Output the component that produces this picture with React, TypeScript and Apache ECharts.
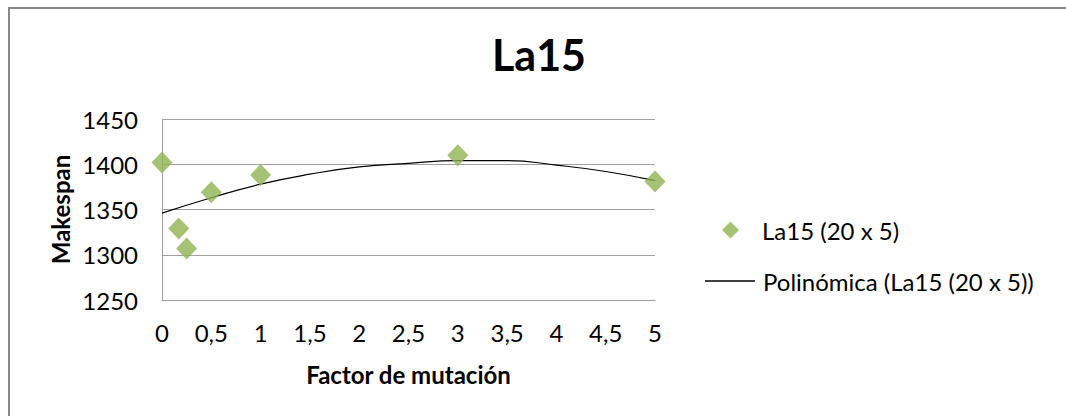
import React, { useEffect, useRef } from "react";
import * as echarts from "echarts";

const title = "La15";
const seriesName = "La15 (20 x 5)";
const trendName = "Polinómica (La15 (20 x 5))";
const xValues = [0, 0.17, 0.25, 0.5, 1, 3, 5];
const yValues = [1402, 1329, 1307, 1369, 1388, 1410, 1381];
const trendX = [0, 0.5, 1, 1.5, 2, 2.5, 3, 3.5, 4, 4.5, 5];
const trendY = [1346, 1363, 1378, 1389, 1397, 1401, 1404, 1404, 1399, 1392, 1382];
const xAxisTitle = "Factor de mutación";
const yAxisTitle = "Makespan";

const FONT = "Lato, 'Open Sans', sans-serif";

export default function App() {
  const ref = useRef<HTMLDivElement>(null);
  useEffect(() => {
    if (!ref.current) return;
    const chart = echarts.init(ref.current, undefined, { renderer: "svg" });
    chart.setOption({
      animation: false,
      backgroundColor: "#ffffff",
      textStyle: { fontFamily: FONT },
      title: {
        text: title,
        left: 539,
        top: 33,
        padding: 0,
        textAlign: "center",
        textStyle: { fontSize: 43, fontWeight: "bold", color: "#000", fontFamily: FONT },
      },
      graphic: [
        {
          type: "rect",
          shape: { x: 9, y: 8, width: 1200, height: 600 },
          style: { fill: "none", stroke: "#878787", lineWidth: 2 },
          silent: true,
        },
      ],
      grid: { left: 162, right: 411, top: 119, bottom: 116 },
      xAxis: {
        type: "value",
        min: 0,
        max: 5,
        interval: 0.5,
        name: xAxisTitle,
        nameLocation: "middle",
        nameGap: 62,
        nameTextStyle: { fontSize: 24, fontWeight: "bold", color: "#000", fontFamily: FONT },
        axisLine: { show: true, lineStyle: { color: "#a0a0a0" } },
        axisTick: { show: false },
        splitLine: { show: false },
        axisLabel: {
          fontSize: 24,
          color: "#000",
          margin: 20,
          fontFamily: FONT,
          formatter: (v: number) => String(v).replace(".", ","),
        },
      },
      yAxis: {
        type: "value",
        min: 1250,
        max: 1450,
        interval: 50,
        name: yAxisTitle,
        nameLocation: "middle",
        nameGap: 90,
        nameRotate: 90,
        nameTextStyle: { fontSize: 24, fontWeight: "bold", color: "#000", fontFamily: FONT },
        axisLine: { show: true, lineStyle: { color: "#a0a0a0" } },
        axisTick: { show: false },
        splitLine: { show: true, lineStyle: { color: "#a0a0a0" } },
        axisLabel: {
          fontSize: 24,
          color: "#000",
          margin: 24,
          fontFamily: FONT,
          formatter: (v: number) => String(v),
        },
      },
      legend: [
        {
          data: [seriesName],
          orient: "vertical",
          left: 722,
          top: 218,
          padding: 0,
          icon: "diamond",
          itemWidth: 17,
          itemHeight: 17,
          textStyle: { fontSize: 24, color: "#000", fontFamily: FONT, padding: [0, 0, 0, 18] },
        },
        {
          data: [{ name: trendName, icon: "rect" }],
          orient: "vertical",
          left: 705,
          top: 269,
          padding: 0,
          itemWidth: 50,
          itemHeight: 1.5,
          textStyle: { fontSize: 24, color: "#000", fontFamily: FONT, padding: [0, 0, 0, 3] },
        },
      ],
      series: [
        {
          name: trendName,
          type: "line",
          data: trendX.map((x, i) => [x, trendY[i]]),
          smooth: true,
          symbol: "none",
          lineStyle: { color: "#000", width: 1.2 },
          itemStyle: { color: "#000" },
          z: 1,
        },
        {
          name: seriesName,
          type: "scatter",
          data: xValues.map((x, i) => [x, yValues[i]]),
          symbol: "diamond",
          symbolSize: [21, 22],
          itemStyle: { color: "#8fb352" },
          z: 2,
        },
      ],
    });
    return () => chart.dispose();
  }, []);
  return (
    <div
      ref={ref}
      style={{ position: "absolute", left: 0, top: 0, width: 1066, height: 416 }}
    />
  );
}
